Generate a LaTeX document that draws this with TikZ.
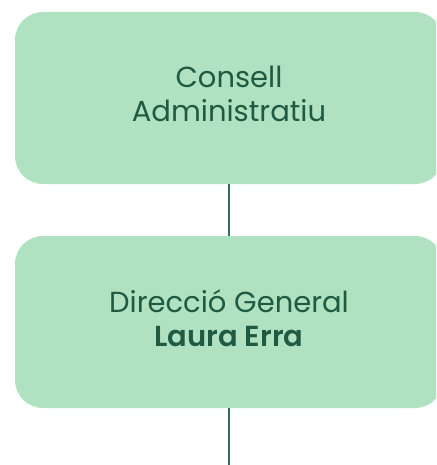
\documentclass[tikz,border=0pt]{standalone}
\usepackage{fontspec}
\setmainfont{Poppins}[BoldFont={Poppins SemiBold}]
\usetikzlibrary{positioning}
\definecolor{boxgreen}{HTML}{B0E2C1}
\definecolor{textgreen}{HTML}{1F5A42}
\definecolor{linegreen}{HTML}{2F6E5C}

\tikzset{
  orgbox/.style={rectangle, rounded corners=28pt, fill=boxgreen, text=textgreen,
    minimum width=428pt, minimum height=172pt, align=center, text depth=8pt,
    font=\fontsize{29}{33.5}\selectfont},
  orgline/.style={draw=linegreen, line width=1.4pt}
}

\begin{document}
\begin{tikzpicture}[x=1pt,y=-1pt]
\clip (0,0) rectangle (436,465);
\useasboundingbox (0,0) rectangle (436,465);

\node[orgbox] (consell) at (229,98) {Consell\\Administratiu};
\node[orgbox] (direccio) at (229,322) {Direcció General\\\textbf{Laura Erra}};
\coordinate (baix) at (229,465);

\draw[orgline] (consell) -- (direccio)
      (direccio) -- (baix);

\end{tikzpicture}
\end{document}
